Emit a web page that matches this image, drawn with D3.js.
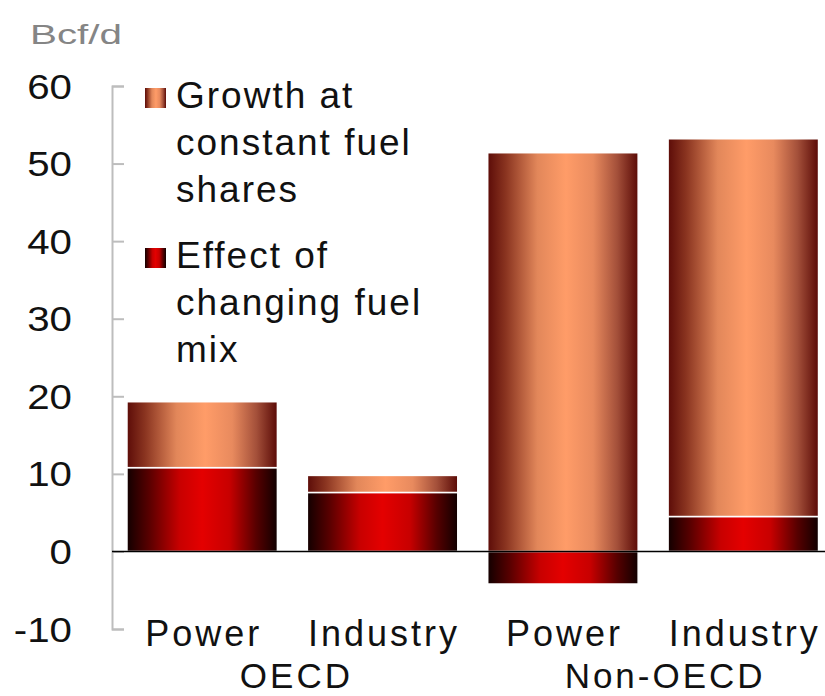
<!DOCTYPE html>
<html><head><meta charset="utf-8">
<script src="https://cdn.jsdelivr.net/npm/d3@7"></script>
<style>body{margin:0;background:#fff}svg{display:block}text{font-family:"Liberation Sans",Arial,sans-serif}</style>
</head><body>
<svg id="chart" width="825" height="696"></svg>
<script>
// ---- data ----
const categories = ["Power", "Industry", "Power", "Industry"];
const groups = ["OECD", "OECD", "Non-OECD", "Non-OECD"];
const groupNames = ["OECD", "Non-OECD"];
const constantShares = [8.5, 2.2, 51.4, 48.7];   // Growth at constant fuel shares
const fuelMixEffect = [10.8, 7.6, -4.2, 4.5];    // Effect of changing fuel mix
const seriesKeys = ["effect", "constant"];
const legendLines = {
  constant: ["Growth at", "constant fuel", "shares"],
  effect: ["Effect of", "changing fuel", "mix"]
};
const yTicks = [-10, 0, 10, 20, 30, 40, 50, 60];
const unitLabel = "Bcf/d";

// ---- setup ----
const svg = d3.select("#chart");
const W = 825, H = 696;
const axisX = 112;

const rows = categories.map((c, i) => ({ i, effect: fuelMixEffect[i], constant: constantShares[i] }));
const stack = d3.stack().keys(seriesKeys).offset(d3.stackOffsetDiverging);
const series = stack(rows);

const x = d3.scaleBand().domain(d3.range(categories.length)).range([axisX, 833.5])
  .paddingInner(0.166).paddingOuter(0.083);
const y = d3.scaleLinear().domain([-10, 60]).range([629, 86]);

// gradients
const defs = svg.append("defs");
const grads = {
  constant: [[0, "#5c0c08"], [0.12, "#8a3420"], [0.33, "#e2875a"], [0.52, "#ff9c68"], [0.7, "#e88a5e"], [0.86, "#a4503a"], [1, "#5a0a06"]],
  effect: [[0, "#120000"], [0.15, "#5a0000"], [0.35, "#c80000"], [0.5, "#e40000"], [0.68, "#c80000"], [0.86, "#560000"], [1, "#100000"]]
};
Object.entries(grads).forEach(([k, stops]) => {
  const g = defs.append("linearGradient").attr("id", "g-" + k)
    .attr("x1", 0).attr("x2", 1).attr("y1", 0).attr("y2", 0);
  stops.forEach(([o, c]) => g.append("stop").attr("offset", o).attr("stop-color", c));
});

// bars
svg.append("g").selectAll("g").data(series).join("g")
  .attr("fill", d => `url(#g-${d.key})`)
  .selectAll("rect").data(d => d).join("rect")
  .attr("x", d => x(d.data.i))
  .attr("width", x.bandwidth())
  .attr("y", d => y(Math.max(d[0], d[1])))
  .attr("height", d => Math.abs(y(d[0]) - y(d[1])))
  .attr("stroke", "#fff").attr("stroke-width", 1.5);

// y axis (line + ticks)
const yAxis = d3.axisRight(y).tickValues(yTicks).tickSize(12).tickSizeOuter(12).tickFormat("");
const ax = svg.append("g").attr("transform", `translate(${axisX},0)`).call(yAxis);
ax.selectAll("path,line").attr("stroke", "#bdbdbd").attr("stroke-width", 2);

// tick labels
svg.append("g").selectAll("g").data(yTicks).join("g")
  .attr("transform", d => `translate(72,${y(d) + 12.5}) scale(1.15,1)`)
  .append("text")
  .attr("text-anchor", "end")
  .attr("font-size", 35)
  .attr("fill", "#111")
  .text(d => d);

// zero line
svg.append("line")
  .attr("x1", axisX).attr("x2", W)
  .attr("y1", y(0)).attr("y2", y(0))
  .attr("stroke", "#000").attr("stroke-width", 1.5);

// unit label
svg.append("text")
  .attr("x", 30).attr("y", 44)
  .attr("font-size", 27)
  .attr("fill", "#858585")
  .attr("textLength", 92).attr("lengthAdjust", "spacingAndGlyphs")
  .text(unitLabel);

// legend
const legendOrder = ["constant", "effect"];
const lg = svg.append("g");
legendOrder.forEach((k, gi) => {
  const base = 108 + gi * 160;
  lg.append("rect").attr("x", 145).attr("y", base - 20).attr("width", 21).attr("height", 20)
    .attr("fill", `url(#g-${k})`);
  legendLines[k].forEach((t, li) => {
    lg.append("text").attr("x", 176).attr("y", base + li * 47)
      .attr("font-size", 37).attr("letter-spacing", 2).attr("fill", "#111").text(t);
  });
});

// category labels
svg.append("g").selectAll("text").data(categories).join("text")
  .attr("x", (d, i) => x(i) + x.bandwidth() / 2 + 1.5)
  .attr("y", 646)
  .attr("text-anchor", "middle")
  .attr("font-size", 36).attr("letter-spacing", 3).attr("fill", "#111")
  .text(d => d);

// group labels
const groupDx = [4, 12];
svg.append("g").selectAll("text").data(groupNames).join("text")
  .attr("x", (g, gi) => {
    const idx = d3.range(groups.length).filter(i => groups[i] === g);
    return d3.mean(idx, i => x(i) + x.bandwidth() / 2) + groupDx[gi];
  })
  .attr("y", 688)
  .attr("text-anchor", "middle")
  .attr("font-size", 35).attr("letter-spacing", 3).attr("fill", "#111")
  .text(d => d);
</script>
</body></html>
